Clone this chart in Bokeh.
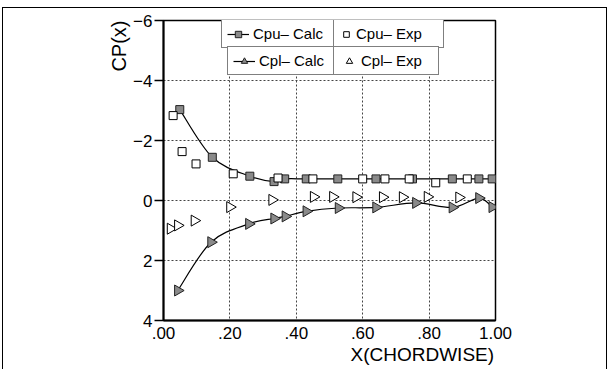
import math
from bokeh.plotting import figure
from bokeh.models import (Range1d, FixedTicker, Legend, LegendItem, Title,
                          InlineStyleSheet)
from bokeh.embed import file_html
from bokeh.resources import INLINE

# ---- data ----
cpu_calc_x = [0.049, 0.147, 0.26, 0.333, 0.365, 0.43, 0.525, 0.64, 0.75, 0.87, 0.95, 0.99]
cpu_calc_y = [-3.03, -1.44, -0.81, -0.63, -0.72, -0.72, -0.72, -0.72, -0.72, -0.72, -0.72, -0.72]

cpu_exp_x = [0.029, 0.056, 0.098, 0.21, 0.345, 0.45, 0.60, 0.667, 0.74, 0.82, 0.915]
cpu_exp_y = [-2.83, -1.63, -1.22, -0.89, -0.75, -0.72, -0.72, -0.72, -0.72, -0.59, -0.72]

cpl_calc_x = [0.043, 0.143, 0.257, 0.333, 0.367, 0.43, 0.527, 0.64, 0.76, 0.87, 0.95, 0.99]
cpl_calc_y = [3.0, 1.39, 0.78, 0.60, 0.53, 0.36, 0.25, 0.23, 0.08, 0.23, -0.08, 0.22]

cpl_exp_x = [0.021, 0.043, 0.093, 0.20, 0.327, 0.452, 0.51, 0.58, 0.66, 0.72, 0.795, 0.89]
cpl_exp_y = [0.94, 0.83, 0.67, 0.22, -0.02, -0.12, -0.12, -0.11, -0.11, -0.11, -0.12, -0.10]

x_ticks = [0, 0.2, 0.4, 0.6, 0.8, 1]
x_tick_labels = [".00", ".20", ".40", ".60", ".80", "1.00"]
y_ticks = [-6, -4, -2, 0, 2, 4]
y_tick_labels = ["\u22126", "\u22124", "\u22122", "0", "2", "4"]

labels = ["Cpu\u2013 Calc", "Cpu\u2013 Exp", "Cpl\u2013 Calc", "Cpl\u2013 Exp"]
x_title = "X(CHORDWISE)"
y_title = "CP(x)"

FONT = "Liberation Sans"


def smooth_segments(xs, ys):
    """Catmull-Rom style cubic segments through the given points."""
    n = len(xs)
    out = {k: [] for k in ("x0", "y0", "x1", "y1", "cx0", "cy0", "cx1", "cy1")}
    for i in range(n - 1):
        a = i - 1 if i > 0 else i
        d = i + 2 if i + 2 < n else i + 1
        out["x0"].append(xs[i]); out["y0"].append(ys[i])
        out["x1"].append(xs[i + 1]); out["y1"].append(ys[i + 1])
        out["cx0"].append(xs[i] + (xs[i + 1] - xs[a]) / 6)
        out["cy0"].append(ys[i] + (ys[i + 1] - ys[a]) / 6)
        out["cx1"].append(xs[i + 1] - (xs[d] - xs[i]) / 6)
        out["cy1"].append(ys[i + 1] - (ys[d] - ys[i]) / 6)
    return out


p = figure(width=614, height=369, output_backend="svg", toolbar_location=None,
           x_range=Range1d(0, 1), y_range=Range1d(4, -6),
           min_border_left=163, min_border_right=119,
           min_border_top=20, min_border_bottom=49)
p.background_fill_color = "white"
p.border_fill_color = "white"
p.outline_line_color = "black"
p.outline_line_width = 1.5

# outer frame of the page (drawn with CSS, does not affect layout)
p.stylesheets = [InlineStyleSheet(css=(
    ":host { overflow: hidden; }"
    ":host::after { content: ''; position: absolute; left: 2px; top: 7px;"
    " width: 605px; height: 400px; border: 1.5px solid black;"
    " box-sizing: border-box; pointer-events: none; z-index: 10; }"))]

# axes
p.xaxis.ticker = FixedTicker(ticks=x_ticks)
p.yaxis.ticker = FixedTicker(ticks=y_ticks)
p.xaxis.major_label_overrides = dict(zip(x_ticks, x_tick_labels))
p.yaxis.major_label_overrides = dict(zip(y_ticks, y_tick_labels))
for ax in (p.xaxis, p.yaxis):
    ax.axis_line_color = "black"
    ax.axis_line_width = 2
    ax.minor_tick_line_color = None
    ax.major_label_text_font = FONT
    ax.major_label_text_font_size = "17px"
    ax.major_label_text_color = "black"
    ax.major_tick_line_color = "black"
    ax.major_tick_line_width = 1.5
p.xaxis.major_tick_out = 0
p.xaxis.major_tick_in = 0
p.xaxis.major_label_standoff = 6
p.yaxis.major_tick_out = 9
p.yaxis.major_tick_in = 0
p.yaxis.major_label_standoff = 2

# grid
p.xgrid.ticker = FixedTicker(ticks=x_ticks)
p.ygrid.ticker = FixedTicker(ticks=y_ticks)
for g in (p.xgrid, p.ygrid):
    g.grid_line_color = "#444444"
    g.grid_line_dash = "2 2"
    g.grid_line_width = 1

# series
su = smooth_segments(cpu_calc_x, cpu_calc_y)
sl = smooth_segments(cpl_calc_x, cpl_calc_y)
r_cu_line = p.bezier(**su, line_color="black", line_width=1.2)
r_cl_line = p.bezier(**sl, line_color="black", line_width=1.2)

r_cu = p.scatter(cpu_calc_x, cpu_calc_y, marker="square", size=8,
                 fill_color="#8a8a8a", line_color="#222222", line_width=1)
r_eu = p.scatter(cpu_exp_x, cpu_exp_y, marker="square", size=8,
                 fill_color="white", line_color="black", line_width=1)
r_cl = p.scatter(cpl_calc_x, cpl_calc_y, marker="triangle", size=11,
                 angle=-math.pi / 2, fill_color="#8a8a8a",
                 line_color="#222222", line_width=1)
r_el = p.scatter(cpl_exp_x, cpl_exp_y, marker="triangle", size=11,
                 angle=-math.pi / 2, fill_color="white",
                 line_color="black", line_width=1)


def make_legend(label, renderers, loc, glyph_w, standoff, label_w):
    lg = Legend(items=[LegendItem(label=label, renderers=renderers)],
                location=loc, orientation="vertical",
                padding=5, spacing=0, margin=0,
                glyph_width=glyph_w, glyph_height=16,
                label_standoff=standoff, label_width=label_w, label_height=16,
                label_text_font=FONT, label_text_font_size="15px",
                label_text_color="black",
                border_line_color="black", border_line_width=1.2,
                background_fill_color="white", background_fill_alpha=1.0)
    p.add_layout(lg)
    return lg


make_legend(labels[0], [r_cu_line, r_cu], (58, 272), 22, 4, 76)
make_legend(labels[1], [r_eu], (170, 272), 14, 3, 82)
make_legend(labels[2], [r_cl_line, r_cl], (64, 245), 22, 4, 70)
make_legend(labels[3], [r_el], (170, 245), 20, 2, 72)

# axis titles
p.add_layout(Title(text=x_title, align="left", offset=187, standoff=0,
                   text_font=FONT, text_font_size="19px",
                   text_font_style="normal", text_color="black"), "below")
p.add_layout(Title(text=y_title, align="right", offset=0, standoff=2,
                   text_font=FONT, text_font_size="20px",
                   text_font_style="normal", text_color="black"), "left")

open("out.html", "w").write(file_html(p, INLINE))
